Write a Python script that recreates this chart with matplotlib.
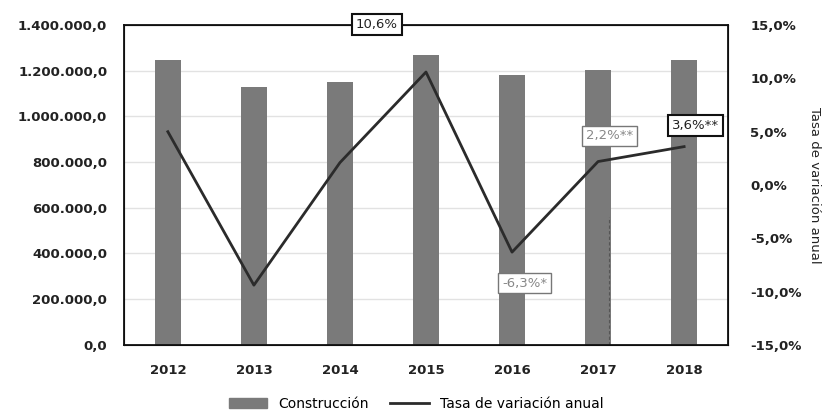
import numpy as np
import matplotlib.pyplot as plt
from matplotlib.lines import Line2D
from matplotlib.patches import Patch

# Data
years = ['2012', '2013', '2014', '2015', '2016', '2017', '2018']
construccion = [1248000, 1127000, 1149000, 1270000, 1183000, 1205000, 1248000]
tasa = [5.0, -9.4, 2.1, 10.6, -6.3, 2.2, 3.6]

# Labels on the line (text, x index, y in %)
label_texts = ['10,6%', '-6,3%*', '2,2%**', '3,6%**']
label_x = [2.43, 4.15, 5.13, 6.13]
label_y = [15.1, -9.2, 4.6, 5.6]
label_dark = [True, False, False, True]

left_ticks = np.arange(0, 1400001, 200000)
right_ticks = np.arange(-15, 16, 5)


def fmt_es(v, dec=1):
    s = f"{v:,.{dec}f}"
    return s.replace(',', 'X').replace('.', ',').replace('X', '.')


fig = plt.figure(figsize=(8.32, 4.19), dpi=100)
ax = fig.add_axes([0.149, 0.177, 0.726, 0.763])
x = np.arange(len(years))

ax.bar(x, construccion, width=0.31, color='#7a7a7a', zorder=2)
ax.set_xlim(-0.51, 6.51)
ax.set_ylim(0, 1400000)
ax.set_yticks(left_ticks)
ax.set_yticklabels([fmt_es(v) for v in left_ticks], fontsize=9.5, fontweight='bold', color='#222222')
ax.set_xticks(x)
ax.set_xticklabels(years, fontsize=9.5, fontweight='bold', color='#222222')
ax.tick_params(axis='y', length=0, pad=12)
ax.tick_params(axis='x', length=0, pad=14)
ax.grid(axis='y', color='#e2e2e2', lw=1, zorder=0)
ax.set_axisbelow(True)

# dashed vertical mark near 2017
ax.plot([5.13, 5.13], [0, 560000], color='#555555', lw=0.8, ls=(0, (3, 2)), zorder=3)

ax2 = ax.twinx()
ax2.plot(x, tasa, color='#2b2b2b', lw=2, zorder=4)
ax2.set_ylim(-15, 15)
ax2.set_yticks(right_ticks)
ax2.set_yticklabels([fmt_es(v) + '%' for v in right_ticks], fontsize=9.5, fontweight='bold', color='#222222')
ax2.tick_params(axis='y', length=0, pad=16)
ax2.set_ylabel('Tasa de variación anual', rotation=270, fontsize=9.5, color='#222222',
               va='center')
ax2.yaxis.set_label_coords(1.144, 0.5)

for s in ax2.spines.values():
    s.set_color('#111111')
    s.set_linewidth(1.3)

for txt, lx, ly, dark in zip(label_texts, label_x, label_y, label_dark):
    ax2.text(lx, ly, txt, ha='center', va='center', fontsize=9.5,
             color='#222222' if dark else '#888888', clip_on=False, zorder=6,
             bbox=dict(boxstyle='square,pad=0.3', fc='white',
                       ec='#111111' if dark else '#777777', lw=1.5 if dark else 1.0))

handles = [Patch(color='#7a7a7a'), Line2D([0], [0], color='#2b2b2b', lw=2)]
fig.legend(handles, ['Construcción', 'Tasa de variación anual'], loc='lower center',
           bbox_to_anchor=(0.5, -0.01), ncol=2, frameon=False, fontsize=10,
           handlelength=2.8, columnspacing=1.5)

fig.savefig('out.png', dpi=100)
